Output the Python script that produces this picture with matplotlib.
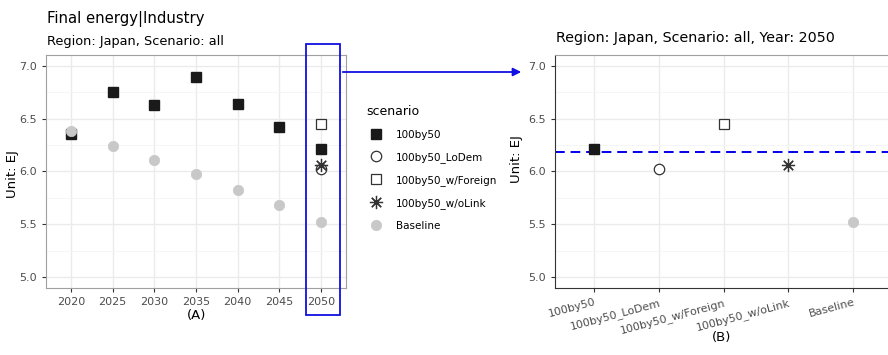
import numpy as np
import matplotlib
matplotlib.use("Agg")
import matplotlib.pyplot as plt
from matplotlib.patches import Rectangle, FancyArrowPatch
from matplotlib.lines import Line2D

# data
years = ["2020", "2025", "2030", "2035", "2040", "2045", "2050"]
val_100by50 = [6.35, 6.75, 6.63, 6.89, 6.64, 6.42, 6.21]
val_baseline = [6.38, 6.24, 6.11, 5.98, 5.83, 5.68, 5.52]
val_lodem_2050 = 6.02
val_foreign_2050 = 6.45
val_wolink_2050 = 6.06

scenarios = ["100by50", "100by50_LoDem", "100by50_w/Foreign", "100by50_w/oLink", "Baseline"]
vals_2050 = [val_100by50[-1], val_lodem_2050, val_foreign_2050, val_wolink_2050, val_baseline[-1]]

yticks = [5.0, 5.5, 6.0, 6.5, 7.0]

W, H = 888, 355
GRID = "#EBEBEB"
TICKC = "#4D4D4D"

# marker styles per scenario
styles = {
    "100by50": dict(marker="s", ms=7, mfc="#1A1A1A", mec="#1A1A1A", mew=1.0),
    "100by50_LoDem": dict(marker="o", ms=7.5, mfc="white", mec="#333333", mew=0.9),
    "100by50_w/Foreign": dict(marker="s", ms=7.5, mfc="white", mec="#333333", mew=0.9),
    "100by50_w/oLink": dict(marker=(8, 2, 0), ms=9.5, mfc="#333333", mec="#333333", mew=0.9),
    "Baseline": dict(marker="o", ms=7.5, mfc="#C8C8C8", mec="#C8C8C8", mew=0.5),
}

plt.rcParams['font.family'] = ['DejaVu Sans']

fig = plt.figure(figsize=(W / 100, H / 100), dpi=100)


def px_axes(x0, y0, x1, y1):
    return fig.add_axes([x0 / W, 1 - y1 / H, (x1 - x0) / W, (y1 - y0) / H])


def style_axes(ax):
    ax.set_ylim(4.9, 7.1)
    ax.set_yticks(yticks)
    ax.set_yticks([5.25, 5.75, 6.25, 6.75], minor=True)
    ax.yaxis.set_major_formatter(matplotlib.ticker.FormatStrFormatter("%.1f"))
    ax.grid(True, which="major", color=GRID, lw=1.0, zorder=0)
    ax.grid(True, which="minor", axis="y", color="#F4F4F4", lw=0.6, zorder=0)
    ax.set_axisbelow(True)
    ax.tick_params(axis="both", which="major", colors="#333333", labelcolor=TICKC,
                   labelsize=8, length=3, width=0.8)
    ax.tick_params(axis="y", which="minor", length=0)
    for s in ax.spines.values():
        s.set_color("#A0A0A0")
        s.set_linewidth(0.8)


# ---- left panel (A)
axL = px_axes(46, 55, 346, 288)
xpos = np.arange(len(years))
axL.plot(xpos, val_100by50, ls="none", zorder=3, **styles["100by50"])
axL.plot(xpos, val_baseline, ls="none", zorder=4, **styles["Baseline"])
axL.plot([xpos[-1]], [val_lodem_2050], ls="none", zorder=3, **styles["100by50_LoDem"])
axL.plot([xpos[-1]], [val_foreign_2050], ls="none", zorder=3, **styles["100by50_w/Foreign"])
axL.plot([xpos[-1]], [val_wolink_2050], ls="none", zorder=5, **styles["100by50_w/oLink"])
axL.set_xlim(-0.6, len(years) - 0.4)
axL.set_xticks(xpos)
axL.set_xticklabels(years)
style_axes(axL)
axL.set_ylabel("Unit: EJ", fontsize=9.5)
axL.yaxis.set_label_coords(-0.09, 0.49)

fig.text(197 / W, 1 - 316 / H, "(A)", fontsize=9.5, va="center", ha="center")
fig.text(47 / W, 1 - 19 / H, "Final energy|Industry", fontsize=10.7, va="center", ha="left")
fig.text(47 / W, 1 - 41 / H, "Region: Japan, Scenario: all", fontsize=9.3, va="center", ha="left")

# ---- right panel (B)
axR = px_axes(555, 55, 892, 288)
xr = np.arange(len(scenarios))
for i, sc in enumerate(scenarios):
    axR.plot([xr[i]], [vals_2050[i]], ls="none", zorder=3, **styles[sc])
axR.axhline(np.mean(vals_2050[:4]), color="#0000EE", ls=(0, (5, 3)), lw=1.4, zorder=2)
axR.set_xlim(-0.6, len(scenarios) - 0.4)
axR.set_xticks(xr)
axR.set_xticklabels(scenarios, rotation=15, ha="right", rotation_mode="anchor")
style_axes(axR)
axR.spines["left"].set_color("#333333")
axR.spines["bottom"].set_color("#333333")
axR.set_ylabel("Unit: EJ", fontsize=9.5)
axR.yaxis.set_label_coords(-0.095, 0.555)
fig.text(722 / W, 1 - 337 / H, "(B)", fontsize=9.5, va="center", ha="center")
fig.text(556 / W, 1 - 38 / H, "Region: Japan, Scenario: all, Year: 2050", fontsize=10.3,
         va="center", ha="left")

# ---- legend
handles = [Line2D([], [], ls="none", **styles[sc]) for sc in scenarios]
leg = fig.legend(handles, scenarios, title="scenario", loc="upper left",
                 bbox_to_anchor=(366 / W, 1 - 105 / H), frameon=False, fontsize=7.5,
                 title_fontsize=9, labelspacing=1.15, handletextpad=0.9,
                 handlelength=2.0, borderaxespad=0, borderpad=0)
leg._legend_box.align = "left"

# ---- highlight box + arrow
fig.patches.append(Rectangle((306 / W, 1 - 315 / H), 34 / W, 271 / H, transform=fig.transFigure,
                             fill=False, ec="#1010E0", lw=1.3, figure=fig))
fig.patches.append(FancyArrowPatch((340 / W, 1 - 72 / H), (524 / W, 1 - 72 / H),
                                   transform=fig.transFigure, arrowstyle="-|>",
                                   mutation_scale=12, color="#1010E0", lw=1.3, figure=fig))

fig.savefig("out.png", dpi=100)
